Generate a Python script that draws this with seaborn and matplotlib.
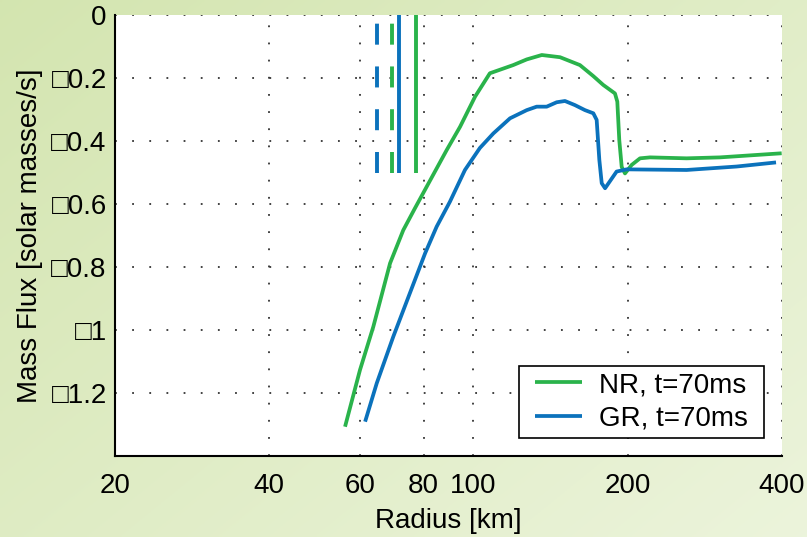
import numpy as np
import pandas as pd
import matplotlib
matplotlib.use("Agg")
import matplotlib.pyplot as plt
from matplotlib.patches import Rectangle
from matplotlib.transforms import IdentityTransform
import seaborn as sns

# Mass flux profiles at t = 70 ms (radius in km, flux in solar masses per second)
nr_radius = [56.2, 60.1, 63.8, 68.8, 73.0, 76.9, 81.1, 88.7, 94.2, 100.8, 107.7,
             119.6, 127.1, 136.0, 147.6, 161.4, 171.4, 179.2, 188.9, 190.9, 192.6,
             194.7, 197.6, 203.6, 211.4, 221.1, 260.6, 302.7, 399.4]
nr_flux = [-1.307, -1.127, -0.990, -0.788, -0.683, -0.614, -0.545, -0.429, -0.355,
           -0.259, -0.185, -0.159, -0.141, -0.127, -0.134, -0.159, -0.194, -0.222,
           -0.249, -0.275, -0.397, -0.482, -0.503, -0.476, -0.455, -0.452, -0.455,
           -0.452, -0.439]

gr_radius = [61.5, 64.8, 69.8, 75.2, 80.5, 84.8, 90.0, 96.3, 103.0, 109.4, 117.9,
             127.1, 132.9, 139.0, 145.4, 150.9, 157.8, 165.1, 171.4, 174.0, 176.1,
             178.0, 180.7, 190.3, 199.1, 260.6, 326.4, 389.4]
gr_flux = [-1.291, -1.169, -1.021, -0.883, -0.757, -0.672, -0.593, -0.492, -0.422,
           -0.376, -0.328, -0.302, -0.291, -0.291, -0.277, -0.273, -0.286, -0.302,
           -0.312, -0.333, -0.460, -0.534, -0.550, -0.497, -0.490, -0.492, -0.481,
           -0.468]

series_labels = ["NR, t=70ms", "GR, t=70ms"]

# Vertical reference radii (km): dashed and solid markers for each model
marker_radius = [64.8, 69.4, 71.7, 77.2]
marker_series = ["GR", "NR", "GR", "NR"]
marker_dashed = [True, True, False, False]
marker_top, marker_bottom = 0.0, -0.5

x_ticks = [20, 40, 60, 80, 100, 200, 400]
y_ticks = [0, -0.2, -0.4, -0.6, -0.8, -1.0, -1.2]
x_limits = (20, 400)
y_limits = (-1.4, 0)

GREEN = "#2ab34b"
BLUE = "#0b72bc"
palette = {series_labels[0]: GREEN, series_labels[1]: BLUE}
marker_colors = {"NR": GREEN, "GR": BLUE}

sns.set_style("white")
plt.rcParams["font.family"] = ["Liberation Sans", "DejaVu Sans"]
plt.rcParams["text.color"] = "black"
plt.rcParams["axes.labelcolor"] = "black"
plt.rcParams["xtick.color"] = "black"
plt.rcParams["ytick.color"] = "black"
plt.rcParams["lines.solid_capstyle"] = "butt"
plt.rcParams["lines.dash_capstyle"] = "butt"

FS = 20
W, H = 807, 537
fig = plt.figure(figsize=(W / 100, H / 100), dpi=100)

# soft green gradient backdrop
bg = fig.add_axes([0, 0, 1, 1], zorder=-10)
yy, xx = np.mgrid[0:1:200j, 0:1:300j]
t = np.clip(0.55 * xx + 0.45 * yy, 0, 1)
c0 = np.array([0.830, 0.898, 0.690])
c1 = np.array([0.925, 0.957, 0.860])
img = c0[None, None, :] * (1 - t[..., None]) + c1[None, None, :] * t[..., None]
bg.imshow(img, aspect="auto", extent=[0, 1, 0, 1], origin="upper")
bg.set_axis_off()

ax = fig.add_axes([115 / W, 1 - 456 / H, (782 - 115) / W, (456 - 15) / H], zorder=1)
ax.set_facecolor("white")

df = pd.concat([
    pd.DataFrame({"Radius": nr_radius, "Flux": nr_flux, "Model": series_labels[0]}),
    pd.DataFrame({"Radius": gr_radius, "Flux": gr_flux, "Model": series_labels[1]}),
], ignore_index=True)

sns.lineplot(data=df, x="Radius", y="Flux", hue="Model", palette=palette,
             estimator=None, sort=False, linewidth=2.7, ax=ax, zorder=3)

for r, s, dashed in zip(marker_radius, marker_series, marker_dashed):
    ls = (0, (5.4, 5.6)) if dashed else "-"
    ax.plot([r, r], [marker_bottom, marker_top], color=marker_colors[s],
            linewidth=2.8, linestyle=ls, zorder=3)

ax.set_xscale("log")
ax.set_xlim(*x_limits)
ax.set_ylim(*y_limits)
ax.set_xticks(x_ticks)
ax.set_xticklabels([str(v) for v in x_ticks])
ax.xaxis.set_minor_locator(matplotlib.ticker.NullLocator())
ax.set_yticks(y_ticks)
ax.set_yticklabels(["0" if v == 0 else "\u25a1" + f"{abs(v):g}" for v in y_ticks])

ax.grid(True, which="major", linestyle=(0, (1, 8.5)), linewidth=1.3, color="0.2")
ax.set_axisbelow(True)

for side in ["top", "right"]:
    ax.spines[side].set_visible(False)
for side in ["left", "bottom"]:
    ax.spines[side].set_linewidth(1.5)
    ax.spines[side].set_color("black")

ax.tick_params(axis="both", direction="in", length=4, width=1.4, colors="black",
               labelsize=FS, pad=6)
ax.tick_params(axis="x", pad=12)

ax.set_xlabel("Radius [km]", fontsize=FS, labelpad=7)
ax.set_ylabel("Mass Flux [solar masses/s]", fontsize=FS, labelpad=6)

# legend content without frame; a wider boxed frame is drawn behind it
leg = ax.legend(loc="lower right", bbox_to_anchor=(0.9577, 0.0415), borderaxespad=0,
                fontsize=FS, frameon=False, handlelength=1.7, handletextpad=0.6,
                borderpad=0.21, labelspacing=0.28)
leg.set_zorder(6)
for line in leg.get_lines():
    line.set_linewidth(2.7)

fig.canvas.draw()
bb = leg.get_window_extent()
hpad = 10.5
frame = Rectangle((bb.x0 - hpad, bb.y0), bb.width + 2 * hpad, bb.height,
                  transform=IdentityTransform(), facecolor="white",
                  edgecolor="black", linewidth=1.2, zorder=5)
ax.add_artist(frame)

fig.savefig("out.png", dpi=100)
